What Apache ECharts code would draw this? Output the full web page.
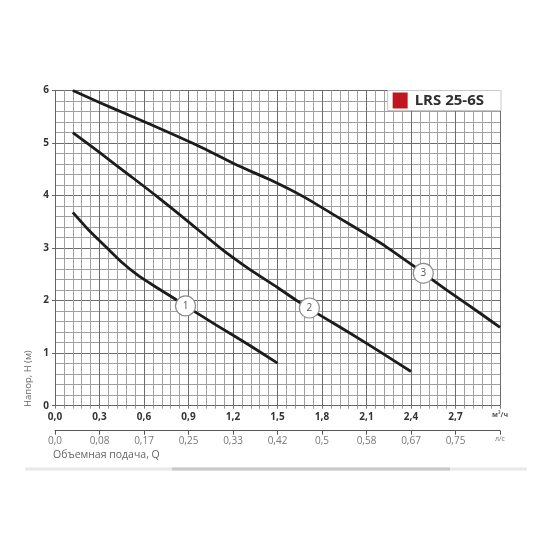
<!DOCTYPE html>
<html>
<head>
<meta charset="utf-8">
<script src="https://cdn.jsdelivr.net/npm/echarts@6/dist/echarts.min.js"></script>
<style>html,body{margin:0;padding:0;background:#fff}#c{width:550px;height:550px}</style>
</head>
<body>
<div id="c"></div>
<script>
// Flow Q (m³/h) vs head H (m) for three speed settings
const curve1 = [[0.12,3.68],[0.225,3.35],[0.337,3.04],[0.45,2.73],[0.56,2.48],[0.674,2.27],[0.81,2.03],[0.88,1.90],[1.09,1.53],[1.3,1.17],[1.5,0.81]];
const curve2 = [[0.12,5.20],[0.3,4.82],[0.5,4.39],[0.68,4.00],[0.9,3.50],[1.115,3.00],[1.3,2.62],[1.5,2.25],[1.63,2.00],[1.8,1.70],[1.99,1.38],[2.2,1.01],[2.4,0.65]];
const curve3 = [[0.12,6.00],[0.3,5.77],[0.5,5.53],[0.775,5.19],[1.0,4.90],[1.225,4.58],[1.45,4.30],[1.674,3.98],[1.9,3.60],[2.124,3.22],[2.236,3.02],[2.417,2.66],[2.641,2.20],[2.866,1.76],[3.0,1.49]];
const markerNames = ['1','2','3'];
const markerPoints = [[0.88,1.90],[1.715,1.86],[2.483,2.52]];
const qLabels = ['0,0','0,3','0,6','0,9','1,2','1,5','1,8','2,1','2,4','2,7','м³/ч'];
const lsLabels = ['0,0','0,08','0,17','0,25','0,33','0,42','0,5','0,58','0,67','0,75','л/с'];
const hLabels = ['0','1','2','3','4','5','6'];
const legendName = 'LRS 25-6S';
const yName = 'Напор, H (м)';
const xName = 'Объемная подача, Q';

const FONT = '"Open Sans", "DejaVu Sans", sans-serif';
const chart = echarts.init(document.getElementById('c'));
const lineSeries = (d) => ({
  type: 'line', data: d, showSymbol: false, smooth: 0.2, silent: true,
  lineStyle: { color: '#1c1c1c', width: 2.8, join: 'round', cap: 'butt' }, z: 3
});
chart.setOption({
  animation: false,
  backgroundColor: '#fff',
  textStyle: { fontFamily: FONT },
  grid: { left: 55, right: 50, top: 90.5, bottom: 144.3 },
  legend: {
    data: [legendName], right: 49, top: 90.5, orient: 'horizontal',
    icon: 'rect', itemWidth: 15, itemHeight: 16, itemGap: 0,
    backgroundColor: '#fff', borderColor: '#c8c8c8', borderWidth: 1,
    padding: [2, 17, 2, 5], selectedMode: false,
    textStyle: { fontFamily: FONT, fontWeight: 'bold', fontSize: 15, color: '#2e2e2e', padding: [0, 0, 0, 2] }
  },
  xAxis: [
    {
      type: 'value', min: 0, max: 3, interval: 0.3, position: 'bottom',
      axisLine: { show: true, onZero: false, lineStyle: { color: '#666', width: 1 } },
      axisTick: { show: true, length: 3, lineStyle: { color: '#777' } },
      minorTick: { show: true, splitNumber: 5, length: 3, lineStyle: { color: '#999' } },
      splitLine: { show: true, lineStyle: { color: '#6c6c6c', width: 1 } },
      minorSplitLine: { show: true, lineStyle: { color: '#a0a0a0', width: 1 } },
      axisLabel: {
        margin: 6, color: '#333', fontWeight: 'bold', fontSize: 10, fontFamily: FONT,
        formatter: (v, i) => i === qLabels.length - 1 ? '{u|' + qLabels[i] + '}' : qLabels[i],
        rich: { u: { fontSize: 7, color: '#555', fontWeight: 'bold', fontFamily: FONT } }
      }
    },
    {
      type: 'value', min: 0, max: 3, interval: 0.3, position: 'bottom', offset: 25,
      axisLine: { show: true, onZero: false, lineStyle: { color: '#555', width: 1 } },
      axisTick: { show: true, length: 4, inside: false, lineStyle: { color: '#555' } },
      splitLine: { show: false },
      axisLabel: {
        margin: 5, color: '#777', fontSize: 10, fontFamily: FONT,
        formatter: (v, i) => i === lsLabels.length - 1 ? '{u|' + lsLabels[i] + '}' : lsLabels[i],
        rich: { u: { fontSize: 7, color: '#777', fontFamily: FONT } }
      }
    }
  ],
  yAxis: {
    type: 'value', min: 0, max: 6, interval: 1,
    axisLine: { show: true, lineStyle: { color: '#666' } },
    axisTick: { show: true, length: 3, lineStyle: { color: '#666' } },
    minorTick: { show: false, splitNumber: 5 },
    splitLine: { show: true, lineStyle: { color: '#6c6c6c', width: 1 } },
    minorSplitLine: { show: true, lineStyle: { color: '#a0a0a0', width: 1 } },
    axisLabel: {
      margin: 6, color: '#333', fontWeight: 'bold', fontSize: 10, fontFamily: FONT,
      formatter: (v, i) => hLabels[i]
    }
  },
  series: [
    lineSeries(curve1),
    lineSeries(curve2),
    lineSeries(curve3),
    {
      type: 'scatter', z: 5, silent: true, symbolSize: 20,
      data: markerPoints.map((p, i) => ({ value: p, name: markerNames[i] })),
      itemStyle: { color: '#fff', opacity: 1, borderColor: '#8c8c8c', borderWidth: 1.2 },
      label: { show: true, position: 'inside', formatter: (p) => p.name, color: '#555', fontSize: 10, fontFamily: FONT }
    },
    { name: legendName, type: 'line', data: [], itemStyle: { color: '#c0161d' }, lineStyle: { color: '#c0161d' } }
  ],
  graphic: [
    { type: 'text', x: 33, y: 407, rotation: Math.PI / 2,
      style: { text: yName, fill: '#666', fontSize: 9.5, fontFamily: FONT, textAlign: 'left', textVerticalAlign: 'bottom' } },
    { type: 'text', x: 53, y: 455.5,
      style: { text: xName, fill: '#666', fontSize: 10.5, fontFamily: FONT, textAlign: 'left', textVerticalAlign: 'middle' } },
    { type: 'rect', shape: { x: 25, y: 467.5, width: 502, height: 3 }, style: { fill: '#e8e8e8' } },
    { type: 'rect', shape: { x: 172, y: 467.5, width: 278, height: 3 }, style: { fill: '#c9c9c9' } }
  ]
});
</script>
</body>
</html>
